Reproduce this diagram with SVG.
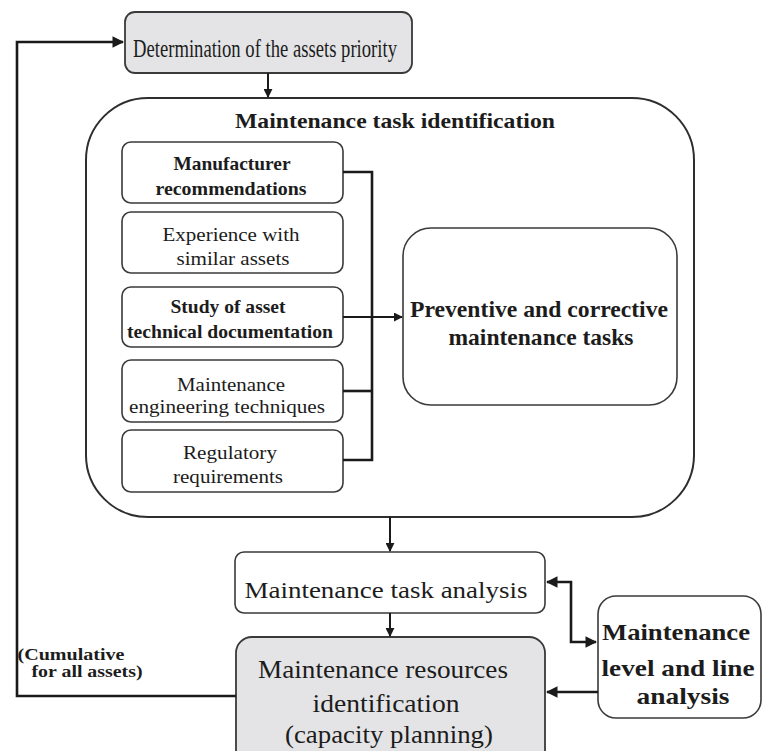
<svg xmlns="http://www.w3.org/2000/svg" width="762" height="751" viewBox="0 0 762 751">
  <defs>
    <marker id="arrow" viewBox="0 0 10 10" refX="9" refY="5" markerWidth="4.5" markerHeight="4.5" orient="auto-start-reverse" markerUnits="strokeWidth">
      <path d="M0,0 L10,5 L0,10 z" fill="#1a1a1a"/>
    </marker>
    <style>
      .box { fill: #ffffff; stroke: #3a3a3a; stroke-width: 1.6; }
      .grey { fill: #e4e4e6; stroke: #3a3a3a; stroke-width: 1.8; }
      .frame { fill: #ffffff; stroke: #2e2e2e; stroke-width: 2; }
      .t { font-family: 'Liberation Serif', 'DejaVu Serif', 'Times New Roman', serif; fill: #1c1c1c; text-anchor: middle; }
      .b { font-weight: bold; }
      .wire { fill: none; stroke: #1a1a1a; stroke-width: 2.6; stroke-linejoin: miter; }
      .thin { fill: none; stroke: #1a1a1a; stroke-width: 2; }
    </style>
  </defs>

  <!-- Asset priority -->
  <g id="asset-priority">
    <rect class="grey" x="125" y="12" width="287" height="61" rx="10"/>
    <text class="t" font-family="Liberation Serif, serif" x="265" y="57" font-size="25" textLength="264" lengthAdjust="spacingAndGlyphs">Determination of the assets priority</text>
  </g>

  <!-- Task identification frame -->
  <g id="task-identification">
    <rect class="frame" x="86" y="98" width="608" height="419" rx="62"/>
    <text class="t b" x="395" y="128" font-size="22" textLength="320" lengthAdjust="spacingAndGlyphs">Maintenance task identification</text>
  </g>

  <g id="manufacturer">
    <rect class="box" x="122" y="142" width="221" height="61" rx="9"/>
    <text class="t b" x="232" y="170" font-size="19" textLength="117" lengthAdjust="spacingAndGlyphs">Manufacturer</text>
    <text class="t b" x="231" y="195" font-size="19" textLength="151" lengthAdjust="spacingAndGlyphs">recommendations</text>
  </g>

  <g id="experience">
    <rect class="box" x="122" y="212" width="221" height="61" rx="9"/>
    <text class="t" x="231" y="241" font-size="19" textLength="137" lengthAdjust="spacingAndGlyphs">Experience with</text>
    <text class="t" x="233" y="265" font-size="19" textLength="113" lengthAdjust="spacingAndGlyphs">similar assets</text>
  </g>

  <g id="documentation">
    <rect class="box" x="122" y="287" width="221" height="60" rx="9"/>
    <text class="t b" x="228" y="313" font-size="19" textLength="115" lengthAdjust="spacingAndGlyphs">Study of asset</text>
    <text class="t b" x="230" y="338" font-size="19" textLength="206" lengthAdjust="spacingAndGlyphs">technical documentation</text>
  </g>

  <g id="engineering">
    <rect class="box" x="122" y="360" width="221" height="62" rx="9"/>
    <text class="t" x="231" y="391" font-size="19" textLength="108" lengthAdjust="spacingAndGlyphs">Maintenance</text>
    <text class="t" x="227" y="413" font-size="19" textLength="196" lengthAdjust="spacingAndGlyphs">engineering techniques</text>
  </g>

  <g id="regulatory">
    <rect class="box" x="122" y="430" width="221" height="62" rx="9"/>
    <text class="t" x="230" y="459" font-size="19" textLength="94" lengthAdjust="spacingAndGlyphs">Regulatory</text>
    <text class="t" x="228" y="483" font-size="19" textLength="110" lengthAdjust="spacingAndGlyphs">requirements</text>
  </g>

  <g id="tasks">
    <rect class="box" x="403" y="228" width="274" height="177" rx="28"/>
    <text class="t b" x="539" y="317" font-size="23" textLength="258" lengthAdjust="spacingAndGlyphs">Preventive and corrective</text>
    <text class="t b" x="541" y="345" font-size="23" textLength="185" lengthAdjust="spacingAndGlyphs">maintenance tasks</text>
  </g>

  <g id="task-analysis">
    <rect class="box" x="235" y="552" width="310" height="61" rx="9"/>
    <text class="t" x="386" y="598" font-size="24" textLength="283" lengthAdjust="spacingAndGlyphs">Maintenance task analysis</text>
  </g>

  <g id="resources">
    <rect class="grey" x="236" y="637" width="309" height="130" rx="16"/>
    <text class="t" x="383" y="678" font-size="26" textLength="250" lengthAdjust="spacingAndGlyphs">Maintenance resources</text>
    <text class="t" x="386" y="712" font-size="26" textLength="147" lengthAdjust="spacingAndGlyphs">identification</text>
    <text class="t" x="389" y="743" font-size="26" textLength="208" lengthAdjust="spacingAndGlyphs">(capacity planning)</text>
  </g>

  <g id="level-line">
    <rect class="box" x="598" y="596" width="163" height="122" rx="18"/>
    <text class="t b" x="676" y="640" font-size="24" textLength="148" lengthAdjust="spacingAndGlyphs">Maintenance</text>
    <text class="t b" x="678" y="676" font-size="24" textLength="153" lengthAdjust="spacingAndGlyphs">level and line</text>
    <text class="t b" x="683" y="704" font-size="24" textLength="93" lengthAdjust="spacingAndGlyphs">analysis</text>
  </g>

  <g id="cumulative-label">
    <text class="t b" x="71" y="660" font-size="16" textLength="107" lengthAdjust="spacingAndGlyphs">(Cumulative</text>
    <text class="t b" x="87" y="677" font-size="16" textLength="111" lengthAdjust="spacingAndGlyphs">for all assets)</text>
  </g>

  <!-- Connectors -->
  <g id="connectors">
    <!-- priority to identification -->
    <line class="thin" x1="268" y1="73" x2="268" y2="97" marker-end="url(#arrow)"/>
    <!-- source bus -->
    <polyline class="wire" points="343,172 372,172 372,460 343,460"/>
    <line class="wire" x1="343" y1="391" x2="372" y2="391"/>
    <line class="thin" x1="343" y1="317" x2="402" y2="317" marker-end="url(#arrow)"/>
    <!-- identification to analysis to resources -->
    <line class="thin" x1="390" y1="517" x2="390" y2="551" marker-end="url(#arrow)"/>
    <line class="thin" x1="390" y1="613" x2="390" y2="636" marker-end="url(#arrow)"/>
    <!-- analysis with level and line study -->
    <polyline class="wire" points="547,582 571,582 571,642 596,642" marker-start="url(#arrow)" marker-end="url(#arrow)"/>
    <line class="wire" x1="598" y1="692" x2="547" y2="692" marker-end="url(#arrow)"/>
    <!-- feedback loop -->
    <polyline class="wire" points="236,696 17,696 17,42 123,42" marker-end="url(#arrow)"/>
  </g>
</svg>
